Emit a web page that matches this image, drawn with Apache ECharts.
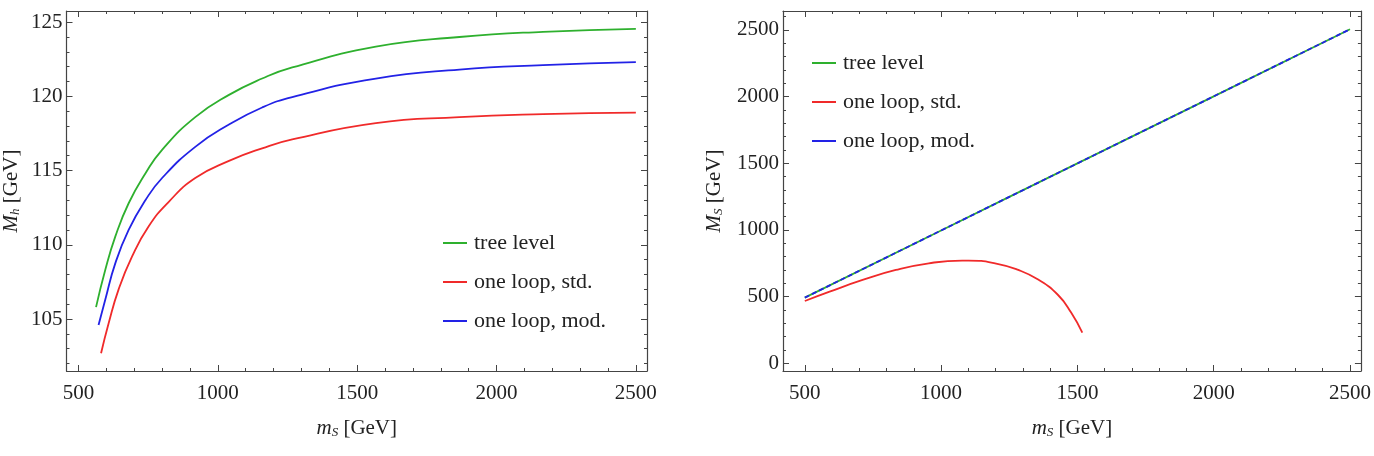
<!DOCTYPE html>
<html>
<head>
<meta charset="utf-8">
<script src="https://cdn.jsdelivr.net/npm/echarts@6/dist/echarts.min.js"></script>
<style>
  html, body { margin: 0; padding: 0; background: #fff; }
  #chart { width: 1374px; height: 456px; }
</style>
</head>
<body>
<div id="chart"></div>
<script>
// ---- data ----
const seriesNames = ["tree level", "one loop, std.", "one loop, mod."];

// left panel: M_h vs m_S
const treeLeft = [
  [563, 105.8], [596, 108.3], [632, 110.55], [680, 112.8], [740, 114.8], [800, 116.4],
  [919, 118.6], [1040, 120.1], [1159, 121.2], [1267, 121.95], [1567, 123.35],
  [1867, 124.0], [2167, 124.35], [2500, 124.55]
];
const stdLeft = [
  [581, 102.7], [608, 104.7], [644, 107.0], [692, 109.2], [752, 111.25], [824, 112.9],
  [919, 114.5], [1040, 115.65], [1159, 116.5], [1267, 117.1], [1567, 118.2],
  [1867, 118.6], [2167, 118.8], [2500, 118.9]
];
const modLeft = [
  [572, 104.6], [596, 106.3], [632, 108.75], [680, 111.0], [740, 113.0], [800, 114.5],
  [919, 116.6], [1040, 118.1], [1159, 119.25], [1267, 119.95], [1567, 121.2],
  [1867, 121.8], [2167, 122.1], [2500, 122.3]
];

// right panel: M_S vs m_S
const treeRight = [[500, 492], [1000, 996], [1500, 1499], [2000, 2002], [2500, 2505]];
const modRight = [[500, 492], [1000, 996], [1500, 1499], [2000, 2002], [2500, 2505]];
const stdRight = [
  [500, 467], [591, 537], [712, 625], [834, 700], [955, 750], [1077, 770], [1101, 770],
  [1198, 750], [1283, 700], [1356, 628], [1429, 512], [1477, 380], [1518, 230]
];

// ticks
const leftXTicks = [500, 1000, 1500, 2000, 2500];
const leftYTicks = [105, 110, 115, 120, 125];
const rightXTicks = [500, 1000, 1500, 2000, 2500];
const rightYTicks = [0, 500, 1000, 1500, 2000, 2500];

function steps(from, to, step) {
  const out = [];
  for (let v = from; v <= to + 1e-9; v += step) out.push(v);
  return out;
}
const leftXMinor = steps(500, 2500, 100);
const leftYMinor = steps(102, 125, 1);
const rightXMinor = steps(500, 2500, 100);
const rightYMinor = steps(0, 2600, 100);

const FONT = "Liberation Serif";
const TXT = "#222";
const FRAME = "#444";
const GREEN = "#2eb02e";
const RED = "#f02a2a";
const BLUE = "#2222e6";

const nameRich = {
  i: { fontStyle: "italic", fontSize: 21, fontFamily: FONT, color: TXT },
  s: { fontStyle: "italic", fontSize: 13, fontFamily: FONT, color: TXT, padding: [9, 0, 0, 0] },
  n: { fontSize: 21, fontFamily: FONT, color: TXT }
};

// builds the 4 axes for one side pair (labelled major, minor, mirrored major, mirrored minor)
function axesFor(gridIndex, min, max, majors, minors, pos, mirrorPos, name, nameGap, isY) {
  const base = { type: "value", gridIndex, min, max, splitLine: { show: false } };
  const frameLine = { show: true, onZero: false, lineStyle: { color: FRAME, width: 1.2 } };
  const noLine = { show: false, onZero: false };
  const major = Object.assign({}, base, {
    position: pos,
    axisLine: frameLine,
    axisTick: { show: true, inside: true, length: 6, customValues: majors, lineStyle: { color: FRAME } },
    axisLabel: {
      show: true, customValues: majors, margin: isY ? 4 : 12,
      formatter: (v) => String(v),
      fontFamily: FONT, fontSize: 21, color: TXT
    },
    name, nameLocation: "middle", nameGap,
    nameRotate: isY ? 90 : 0,
    nameTextStyle: { fontFamily: FONT, fontSize: 21, color: TXT, rich: nameRich }
  });
  const minor = Object.assign({}, base, {
    position: pos,
    axisLine: noLine,
    axisTick: { show: true, inside: true, length: 3, customValues: minors, lineStyle: { color: FRAME } },
    axisLabel: { show: false }
  });
  const mMajor = Object.assign({}, base, {
    position: mirrorPos,
    axisLine: frameLine,
    axisTick: { show: true, inside: true, length: 6, customValues: majors, lineStyle: { color: FRAME } },
    axisLabel: { show: false }
  });
  const mMinor = Object.assign({}, base, {
    position: mirrorPos,
    axisLine: noLine,
    axisTick: { show: true, inside: true, length: 3, customValues: minors, lineStyle: { color: FRAME } },
    axisLabel: { show: false }
  });
  return [major, minor, mMajor, mMinor];
}

const xAxis = [
  ...axesFor(0, 457, 2540, leftXTicks, leftXMinor, "bottom", "top", "{i|m}{s|S}{n| [GeV]}", 46, false),
  ...axesFor(1, 420, 2540, rightXTicks, rightXMinor, "bottom", "top", "{i|m}{s|S}{n| [GeV]}", 46, false)
];
const yAxis = [
  ...axesFor(0, 101.5, 125.75, leftYTicks, leftYMinor, "left", "right", "{i|M}{s|h}{n| [GeV]}", 44, true),
  ...axesFor(1, -58, 2642, rightYTicks, rightYMinor, "left", "right", "{i|M}{s|S}{n| [GeV]}", 58, true)
];

function line(name, data, color, xi, yi, dashed) {
  return {
    name, type: "line", data, xAxisIndex: xi, yAxisIndex: yi,
    showSymbol: false, smooth: 0.5,
    lineStyle: { color, width: 1.8, type: dashed ? [5, 3] : "solid" },
    itemStyle: { color },
    z: dashed ? 3 : 2
  };
}

const series = [
  line(seriesNames[0], treeLeft, GREEN, 0, 0),
  line(seriesNames[1], stdLeft, RED, 0, 0),
  line(seriesNames[2], modLeft, BLUE, 0, 0),
  line(seriesNames[0], treeRight, GREEN, 4, 4),
  line(seriesNames[1], stdRight, RED, 4, 4),
  line(seriesNames[2], modRight, BLUE, 4, 4, true)
];

const legendBase = {
  orient: "vertical", icon: "rect", itemWidth: 24, itemHeight: 2, itemGap: 17, padding: 0,
  data: seriesNames, selectedMode: false,
  textStyle: { fontFamily: FONT, fontSize: 22, lineHeight: 21, color: TXT, padding: [0, 0, 0, 2] }
};

const chart = echarts.init(document.getElementById("chart"));
chart.setOption({
  animation: false,
  backgroundColor: "#fff",
  grid: [
    { left: 65, top: 11, width: 582, height: 360 },
    { left: 783, top: 11, width: 581, height: 360 }
  ],
  xAxis, yAxis, series,
  legend: [
    Object.assign({}, legendBase, { left: 443, top: 232 }),
    Object.assign({}, legendBase, { left: 812, top: 52 })
  ]
});
</script>
</body>
</html>
